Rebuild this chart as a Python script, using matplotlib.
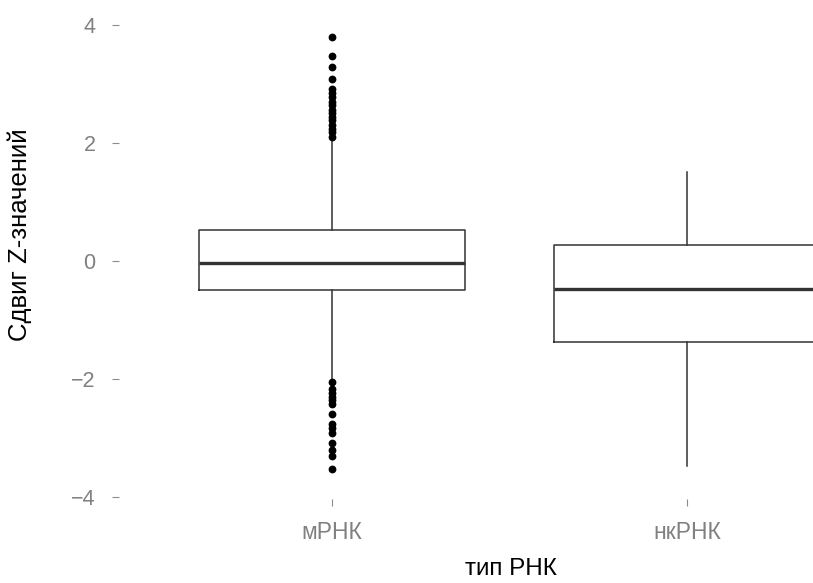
import matplotlib
matplotlib.use("Agg")
import matplotlib.pyplot as plt

plt.rcParams["font.family"] = ["Liberation Sans", "DejaVu Sans"]

# Box-plot summary per RNA type
categories = ["мРНК", "нкРНК"]
q1 = [-0.49, -1.38]
medians = [-0.03, -0.475]
q3 = [0.525, 0.27]
whisker_low = [-2.0, -3.47]
whisker_high = [2.06, 1.50]
outliers_mrna = [3.79, 3.47, 3.29, 3.08, 2.91, 2.84, 2.77, 2.70, 2.64, 2.56,
                 2.50, 2.44, 2.38, 2.31, 2.24, 2.19, 2.10,
                 -2.05, -2.17, -2.23, -2.30, -2.36, -2.43, -2.60, -2.77,
                 -2.83, -2.92, -3.09, -3.20, -3.31, -3.53]
outliers_ncrna = []
outliers = [outliers_mrna, outliers_ncrna]

y_ticks = [-4, -2, 0, 2, 4]

W, H = 813, 583
fig = plt.figure(figsize=(W / 100, H / 100), dpi=100)
ax = fig.add_axes([119 / W, 84 / H, 781 / W, 486 / H])

stats = []
for i, name in enumerate(categories):
    stats.append(dict(label=name, q1=q1[i], med=medians[i], q3=q3[i],
                      whislo=whisker_low[i], whishi=whisker_high[i],
                      fliers=outliers[i]))

line_col = "#333333"
ax.bxp(stats, positions=[1, 2], widths=0.75, showcaps=False,
       boxprops=dict(color=line_col, linewidth=1.1),
       whiskerprops=dict(color=line_col, linewidth=1.1),
       medianprops=dict(color=line_col, linewidth=2.4),
       flierprops=dict(marker="o", markersize=4.6, markerfacecolor="black",
                       markeredgecolor="black", linestyle="none"))

ax.set_xlim(0.4, 2.6)
ax.set_ylim(-4.034, 4.20)
ax.set_yticks(y_ticks)
ax.set_yticklabels([f"{v}".replace("-", "\u2212") for v in y_ticks])
ax.set_xticks([1, 2])
ax.set_xticklabels(categories)

for s in ax.spines.values():
    s.set_visible(False)

ax.tick_params(axis="both", direction="out", length=5, width=0.8,
               color="#8c8c8c", labelcolor="#808080")
ax.tick_params(axis="y", pad=12, labelsize=15.5)
ax.tick_params(axis="x", pad=11, labelsize=16.5)

fig.text(20 / W, 1 - 235 / H, "Сдвиг Z-значений", rotation=90,
         ha="center", va="center", fontsize=18.5, color="black")
fig.text(511 / W, 1 - 569 / H, "тип РНК", ha="center", va="center",
         fontsize=17.5, color="black")

fig.savefig("out.png", dpi=100, facecolor="white")
